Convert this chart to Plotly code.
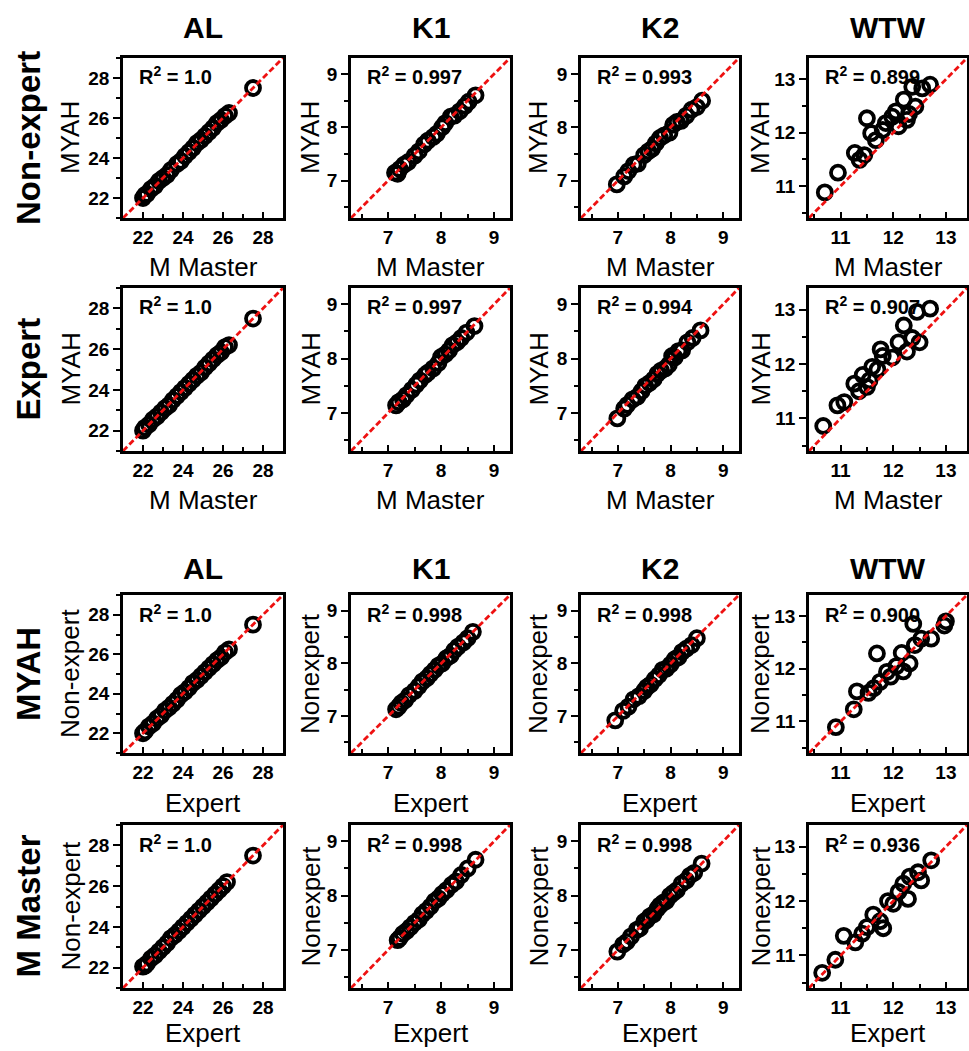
import plotly.graph_objects as go

# ---------------- data ----------------
col_names = ["AL", "K1", "K2", "WTW"]
row_names = ["Non-expert", "Expert", "MYAH", "M Master"]

# Row 1: Non-expert (x = M Master, y = MYAH)
ne_al_mm = [22.0, 22.1, 22.2, 22.4, 22.6, 22.8, 23.0, 23.2, 23.4, 23.7, 23.9, 24.1, 24.3, 24.5, 24.7, 24.9, 25.1, 25.3, 25.5, 25.7, 25.9, 26.1, 26.3, 27.5]
ne_al_myah = [22.0, 22.15, 22.2, 22.45, 22.6, 22.85, 23.0, 23.15, 23.4, 23.7, 23.85, 24.1, 24.3, 24.5, 24.75, 24.9, 25.1, 25.3, 25.5, 25.75, 25.9, 26.1, 26.25, 27.5]
ne_k1_mm = [7.13, 7.18, 7.22, 7.3, 7.38, 7.5, 7.58, 7.68, 7.75, 7.85, 7.92, 8.02, 8.08, 8.18, 8.25, 8.35, 8.45, 8.52, 8.65]
ne_k1_myah = [7.15, 7.13, 7.22, 7.3, 7.35, 7.47, 7.55, 7.68, 7.75, 7.82, 7.88, 8.0, 8.08, 8.2, 8.22, 8.3, 8.4, 8.48, 8.6]
ne_k2_mm = [6.98, 7.12, 7.2, 7.3, 7.38, 7.5, 7.58, 7.65, 7.72, 7.8, 7.88, 7.98, 8.05, 8.12, 8.2, 8.3, 8.4, 8.5, 8.6]
ne_k2_myah = [6.93, 7.08, 7.18, 7.3, 7.32, 7.48, 7.55, 7.6, 7.7, 7.8, 7.85, 7.9, 8.05, 8.1, 8.12, 8.22, 8.33, 8.38, 8.5]
ne_wtw_mm = [10.7, 10.95, 11.27, 11.36, 11.45, 11.5, 11.58, 11.67, 11.8, 11.86, 11.98, 12.05, 12.1, 12.2, 12.26, 12.3, 12.36, 12.42, 12.55, 12.7]
ne_wtw_myah = [10.88, 11.25, 11.62, 11.49, 11.58, 12.27, 11.99, 11.86, 12.05, 12.18, 12.3, 12.4, 12.12, 12.62, 12.24, 12.35, 12.86, 12.49, 12.83, 12.9]

# Row 2: Expert (x = M Master, y = MYAH)
ex_al_mm = [22.0, 22.1, 22.3, 22.5, 22.7, 22.9, 23.1, 23.3, 23.5, 23.7, 23.9, 24.1, 24.3, 24.5, 24.7, 24.9, 25.1, 25.3, 25.5, 25.7, 25.9, 26.1, 26.3, 27.5]
ex_al_myah = [22.0, 22.15, 22.3, 22.55, 22.7, 22.9, 23.1, 23.25, 23.5, 23.7, 23.9, 24.1, 24.3, 24.5, 24.7, 24.85, 25.1, 25.3, 25.5, 25.7, 25.85, 26.1, 26.2, 27.5]
ex_k1_mm = [7.15, 7.2, 7.28, 7.35, 7.45, 7.53, 7.6, 7.7, 7.75, 7.85, 7.95, 8.0, 8.08, 8.15, 8.22, 8.3, 8.38, 8.48, 8.63]
ex_k1_myah = [7.14, 7.2, 7.25, 7.33, 7.43, 7.52, 7.6, 7.7, 7.74, 7.82, 7.92, 8.03, 8.08, 8.15, 8.25, 8.3, 8.38, 8.48, 8.6]
ex_k2_mm = [6.99, 7.12, 7.18, 7.28, 7.37, 7.45, 7.52, 7.6, 7.68, 7.75, 7.82, 7.9, 7.97, 8.03, 8.08, 8.15, 8.22, 8.32, 8.42, 8.57]
ex_k2_myah = [6.9, 7.08, 7.15, 7.25, 7.3, 7.4, 7.5, 7.55, 7.62, 7.72, 7.78, 7.82, 7.89, 8.05, 8.02, 8.14, 8.15, 8.3, 8.38, 8.52]
ex_wtw_mm = [10.67, 10.94, 11.07, 11.26, 11.35, 11.42, 11.5, 11.55, 11.6, 11.7, 11.76, 11.8, 11.98, 12.1, 12.2, 12.26, 12.36, 12.45, 12.5, 12.7]
ex_wtw_myah = [10.86, 11.24, 11.3, 11.64, 11.5, 11.8, 11.58, 11.7, 11.95, 11.9, 12.27, 12.15, 12.12, 12.4, 12.71, 12.23, 12.48, 12.96, 12.4, 13.02]

# Row 3: MYAH (x = Expert, y = Non-expert)
my_al_ex = [22.0, 22.1, 22.3, 22.5, 22.7, 22.9, 23.1, 23.3, 23.5, 23.7, 23.9, 24.1, 24.3, 24.5, 24.7, 24.9, 25.1, 25.3, 25.5, 25.7, 25.9, 26.1, 26.3, 27.5]
my_al_ne = [22.0, 22.1, 22.35, 22.5, 22.75, 22.9, 23.15, 23.3, 23.5, 23.7, 23.95, 24.1, 24.3, 24.55, 24.7, 24.9, 25.1, 25.3, 25.5, 25.7, 25.85, 26.1, 26.25, 27.5]
my_k1_ex = [7.15, 7.2, 7.25, 7.32, 7.4, 7.5, 7.58, 7.65, 7.73, 7.8, 7.88, 7.95, 8.02, 8.1, 8.18, 8.25, 8.32, 8.42, 8.5, 8.6]
my_k1_ne = [7.13, 7.18, 7.25, 7.3, 7.4, 7.48, 7.57, 7.66, 7.72, 7.8, 7.88, 7.96, 8.0, 8.1, 8.15, 8.25, 8.32, 8.4, 8.48, 8.6]
my_k2_ex = [6.95, 7.1, 7.2, 7.3, 7.4, 7.5, 7.55, 7.62, 7.7, 7.78, 7.85, 7.92, 8.0, 8.08, 8.15, 8.22, 8.3, 8.4, 8.5]
my_k2_ne = [6.92, 7.1, 7.18, 7.32, 7.38, 7.48, 7.55, 7.6, 7.7, 7.78, 7.88, 7.9, 7.98, 8.08, 8.12, 8.22, 8.28, 8.35, 8.48]
my_wtw_ex = [10.91, 11.25, 11.31, 11.53, 11.63, 11.69, 11.75, 11.88, 11.95, 12.06, 12.16, 12.19, 12.31, 12.38, 12.41, 12.53, 12.72, 12.97, 13.0]
my_wtw_ne = [10.89, 11.23, 11.57, 11.54, 11.63, 12.29, 11.75, 11.94, 11.85, 12.05, 12.3, 11.95, 12.1, 12.85, 12.45, 12.57, 12.57, 12.82, 12.9]

# Row 4: M Master (x = Expert, y = Non-expert)
mm_al_ex = [22.0, 22.1, 22.2, 22.4, 22.6, 22.8, 23.0, 23.2, 23.4, 23.6, 23.8, 24.0, 24.2, 24.4, 24.6, 24.8, 25.0, 25.2, 25.4, 25.6, 25.8, 26.0, 26.2, 27.5]
mm_al_ne = [22.05, 22.1, 22.2, 22.45, 22.6, 22.8, 23.0, 23.2, 23.45, 23.6, 23.8, 24.0, 24.2, 24.4, 24.6, 24.8, 25.0, 25.2, 25.4, 25.6, 25.8, 26.0, 26.2, 27.5]
mm_k1_ex = [7.18, 7.22, 7.28, 7.35, 7.42, 7.5, 7.58, 7.65, 7.72, 7.8, 7.88, 7.95, 8.02, 8.1, 8.2, 8.28, 8.38, 8.5, 8.65]
mm_k1_ne = [7.18, 7.22, 7.3, 7.35, 7.42, 7.5, 7.56, 7.66, 7.72, 7.8, 7.9, 7.95, 8.03, 8.1, 8.2, 8.26, 8.38, 8.5, 8.66]
mm_k2_ex = [6.99, 7.1, 7.17, 7.25, 7.36, 7.42, 7.5, 7.55, 7.61, 7.68, 7.75, 7.8, 7.86, 7.92, 7.99, 8.05, 8.12, 8.21, 8.3, 8.37, 8.45, 8.59]
mm_k2_ne = [6.97, 7.1, 7.15, 7.25, 7.37, 7.4, 7.52, 7.55, 7.62, 7.66, 7.76, 7.82, 7.87, 7.9, 8.0, 8.05, 8.1, 8.22, 8.28, 8.37, 8.42, 8.59]
mm_wtw_ex = [10.65, 10.9, 11.06, 11.28, 11.41, 11.5, 11.62, 11.75, 11.81, 11.9, 12.0, 12.1, 12.19, 12.28, 12.31, 12.47, 12.53, 12.72]
mm_wtw_ne = [10.68, 10.92, 11.36, 11.24, 11.4, 11.52, 11.75, 11.63, 11.5, 12.0, 11.95, 12.17, 12.32, 12.04, 12.45, 12.53, 12.38, 12.75]

r2_labels = [
    ["1.0", "0.997", "0.993", "0.899"],
    ["1.0", "0.997", "0.994", "0.907"],
    ["1.0", "0.998", "0.998", "0.900"],
    ["1.0", "0.998", "0.998", "0.936"],
]
x_titles = ["M Master", "M Master", "Expert", "Expert"]
y_titles = [
    ["MYAH", "MYAH", "MYAH", "MYAH"],
    ["MYAH", "MYAH", "MYAH", "MYAH"],
    ["Non-expert", "Nonexpert", "Nonexpert", "Nonexpert"],
    ["Non-expert", "Nonexpert", "Nonexpert", "Nonexpert"],
]
col_ranges = [[21, 29], [6.3, 9.3], [6.3, 9.3], [10.4, 13.4]]
col_dtick = [2, 1, 1, 1]

panel_data = [
    [(ne_al_mm, ne_al_myah), (ne_k1_mm, ne_k1_myah), (ne_k2_mm, ne_k2_myah), (ne_wtw_mm, ne_wtw_myah)],
    [(ex_al_mm, ex_al_myah), (ex_k1_mm, ex_k1_myah), (ex_k2_mm, ex_k2_myah), (ex_wtw_mm, ex_wtw_myah)],
    [(my_al_ex, my_al_ne), (my_k1_ex, my_k1_ne), (my_k2_ex, my_k2_ne), (my_wtw_ex, my_wtw_ne)],
    [(mm_al_ex, mm_al_ne), (mm_k1_ex, mm_k1_ne), (mm_k2_ex, mm_k2_ne), (mm_wtw_ex, mm_wtw_ne)],
]

# ---------------- layout geometry (pixels) ----------------
W, H = 969, 1051
col_px = [(123, 283), (351, 510), (581, 739), (809, 967)]
row_px = [(58, 218), (288, 451), (595, 753), (825, 988)]
xtitle_off = [49, 49, 50, 45]
ytitle_off = [53, 41, 43, 49]
FONT = "Liberation Sans, Arial, sans-serif"


def px_x(p):
    return p / W


def px_y(p):
    return 1 - p / H


fig = go.Figure()
layout = dict(
    width=W, height=H, margin=dict(l=0, r=0, t=0, b=0),
    paper_bgcolor="white", plot_bgcolor="white", showlegend=False,
    font=dict(family=FONT, color="black"),
)
annotations = []

k = 0
for r in range(4):
    for c in range(4):
        k += 1
        sfx = "" if k == 1 else str(k)
        xs, ys = panel_data[r][c]
        rng = col_ranges[c]
        fig.add_trace(go.Scatter(
            x=xs, y=ys, mode="markers", xaxis="x" + sfx, yaxis="y" + sfx,
            marker=dict(symbol="circle-open", size=14, color="black",
                        line=dict(width=3.8, color="black")),
            hoverinfo="skip"))
        fig.add_trace(go.Scatter(
            x=rng, y=rng, mode="lines", xaxis="x" + sfx, yaxis="y" + sfx,
            line=dict(color="#ee1111", width=2.8, dash="6px,3px"),
            hoverinfo="skip"))
        x0, x1 = col_px[c]
        y0, y1 = row_px[r]
        axcommon = dict(
            range=rng, dtick=col_dtick[c], showgrid=False, zeroline=False,
            showline=True, mirror=True, linewidth=2.6, linecolor="black",
            tickwidth=2, tickcolor="black",
            tickfont=dict(family=FONT, size=19, weight="bold", color="black"),
            minor=dict(dtick=col_dtick[c] / 2, ticklen=4, tickwidth=1.5,
                       tickcolor="black", showgrid=False),
        )
        layout["xaxis" + sfx] = dict(
            axcommon, domain=[px_x(x0), px_x(x1)], anchor="y" + sfx,
            ticks="inside", ticklen=6,
            minor=dict(axcommon["minor"], ticks="inside"))
        layout["yaxis" + sfx] = dict(
            axcommon, domain=[px_y(y1), px_y(y0)], anchor="x" + sfx,
            ticks="outside", ticklen=7,
            minor=dict(axcommon["minor"], ticks="outside"))
        # R^2 label
        annotations.append(dict(
            xref="paper", yref="paper", x=px_x(x0 + 14), y=px_y(y0 + 18),
            xanchor="left", yanchor="middle", showarrow=False,
            text="<b>R<sup>2</sup> = " + r2_labels[r][c] + "</b>",
            font=dict(family=FONT, size=20, color="black")))
        # x-axis title
        annotations.append(dict(
            xref="paper", yref="paper", x=px_x((x0 + x1) / 2),
            y=px_y(y1 + xtitle_off[r]),
            xanchor="center", yanchor="middle", showarrow=False,
            text=x_titles[r], font=dict(family=FONT, size=26, color="black")))
        # y-axis title
        annotations.append(dict(
            xref="paper", yref="paper", x=px_x(x0 - ytitle_off[c]),
            y=px_y((y0 + y1) / 2), xanchor="center", yanchor="middle",
            showarrow=False, textangle=-90, text=y_titles[r][c],
            font=dict(family=FONT, size=26, color="black")))

# column titles (above rows 1 and 3)
for c in range(4):
    x0, x1 = col_px[c]
    for yy in (28, 568):
        annotations.append(dict(
            xref="paper", yref="paper", x=px_x((x0 + x1) / 2), y=px_y(yy),
            xanchor="center", yanchor="middle", showarrow=False,
            text="<b>" + col_names[c] + "</b>",
            font=dict(family=FONT, size=30, color="black")))

# row labels
for r in range(4):
    y0, y1 = row_px[r]
    annotations.append(dict(
        xref="paper", yref="paper", x=px_x(28), y=px_y((y0 + y1) / 2),
        xanchor="center", yanchor="middle", showarrow=False, textangle=-90,
        text="<b>" + row_names[r] + "</b>",
        font=dict(family=FONT, size=33, color="black")))

layout["annotations"] = annotations
fig.update_layout(**layout)
fig.write_html("out.html")
